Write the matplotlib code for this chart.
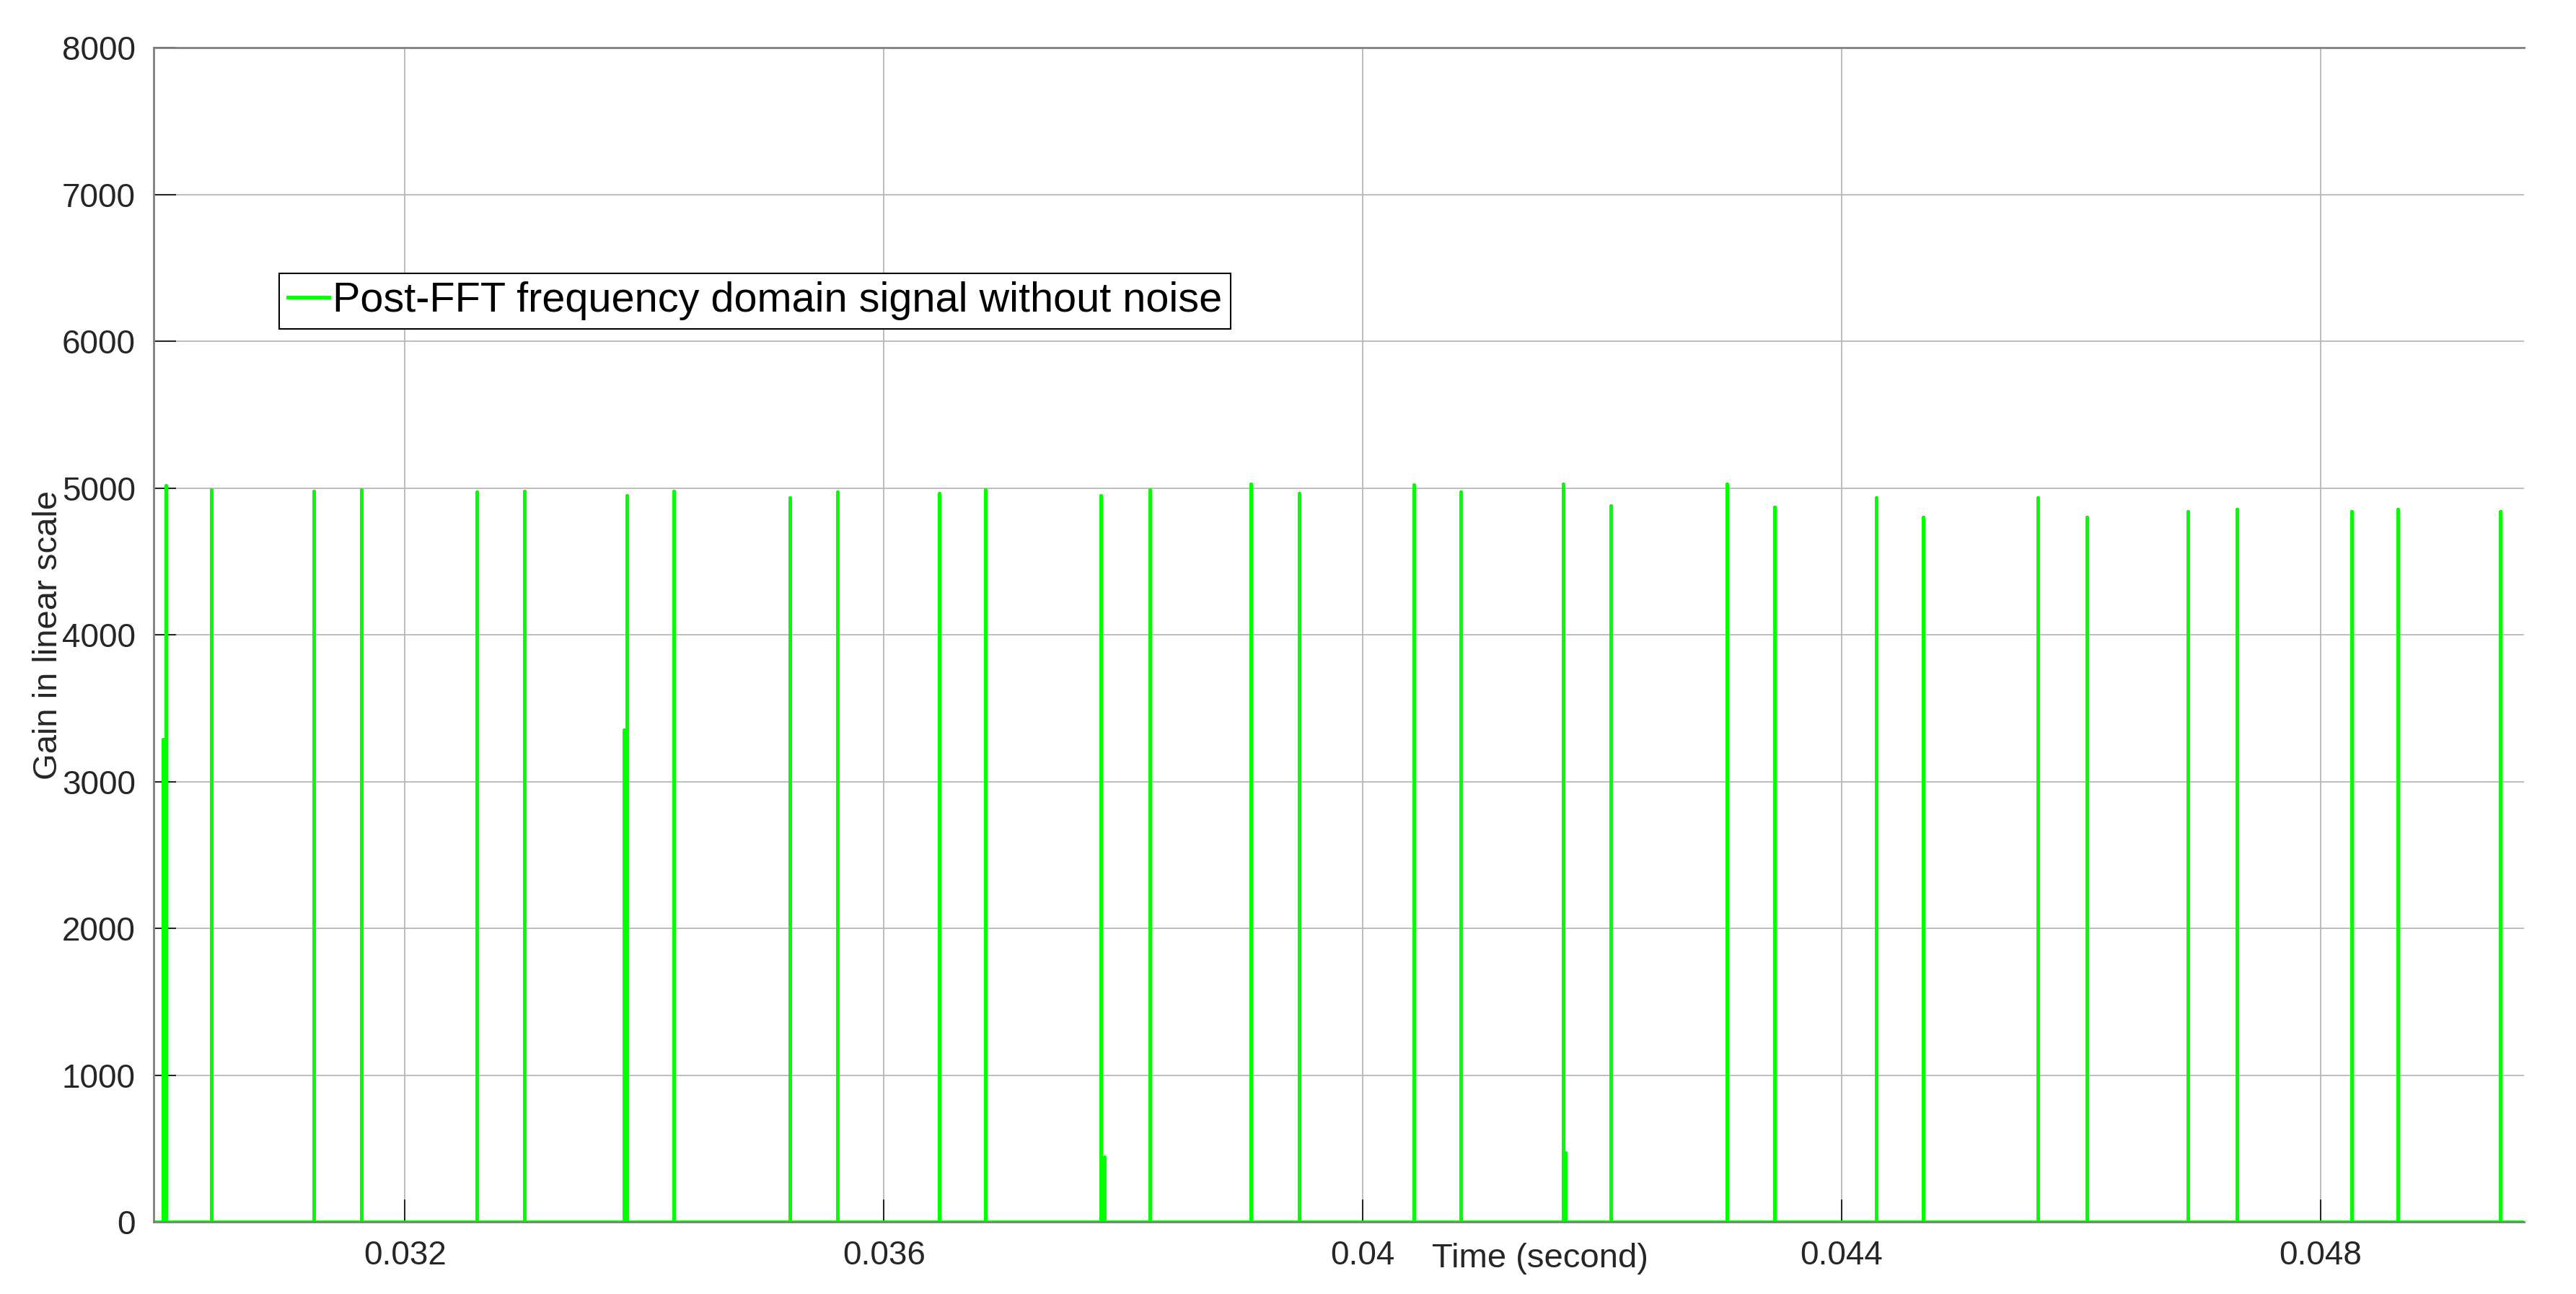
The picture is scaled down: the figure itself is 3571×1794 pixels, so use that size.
import numpy as np
import matplotlib.pyplot as plt

# spike times (s) and peak gains
spike_times = [0.030003, 0.030386, 0.031236, 0.031635, 0.032601, 0.032997,
               0.033854, 0.034247, 0.035214, 0.035612, 0.036460, 0.036850,
               0.037814, 0.038221, 0.039065, 0.039467, 0.040430, 0.040821,
               0.041675, 0.042072, 0.043042, 0.043438, 0.044291, 0.044679,
               0.045640, 0.046051, 0.046891, 0.047300, 0.048262, 0.048649,
               0.049502]
spike_gains = [5016, 4989, 4976, 4989, 4973, 4976,
               4947, 4976, 4935, 4973, 4963, 4989,
               4948, 4989, 5025, 4963, 5024, 4973,
               5029, 4881, 5029, 4870, 4935, 4800,
               4935, 4800, 4840, 4853, 4840, 4853,
               4840]

# smaller side spikes next to some of the main ones
side_times = [0.029982, 0.033830, 0.037840, 0.041690]
side_gains = [3287, 3351, 444, 473]

t_all = np.array(spike_times + side_times)
g_all = np.array(spike_gains + side_gains)
order = np.argsort(t_all)
t_all, g_all = t_all[order], g_all[order]

# impulse train: baseline -> peak -> baseline at each spike
x = np.repeat(t_all, 3)
y = np.zeros_like(x, dtype=float)
y[1::3] = g_all

xlim = (0.0299, 0.0497)
xticks = [0.032, 0.036, 0.040, 0.044, 0.048]
xtick_labels = ['0.032', '0.036', '0.04', '0.044', '0.048']
yticks = np.arange(0, 8001, 1000)

plt.rcParams['font.family'] = ['Liberation Sans', 'DejaVu Sans']

fig = plt.figure(figsize=(35.71, 17.94), dpi=100)
ax = fig.add_axes([0.0596, 0.0557, 0.9202, 0.9075])

x_full = np.concatenate([[xlim[0]], x, [xlim[1]]])
y_full = np.concatenate([[0], y, [0]])
ax.plot(x_full, y_full, color='#00ff00', lw=3.5,
        label='Post-FFT frequency domain signal without noise')

ax.set_xlim(*xlim)
ax.set_ylim(0, 8000)
ax.set_xticks(xticks)
ax.set_xticklabels(xtick_labels)
ax.set_yticks(yticks)

ax.grid(True, color='#b8b8b8', lw=1.3)
ax.set_axisbelow(True)
ax.tick_params(direction='in', length=22, width=1.5, colors='#262626',
               labelsize=33, pad=18)
for s in ['left', 'top', 'bottom']:
    ax.spines[s].set_color('#808080')
    ax.spines[s].set_linewidth(2)
ax.spines['right'].set_visible(False)

ax.set_xlabel('Time (second)', fontsize=34, color='#262626')
ax.xaxis.set_label_coords(0.585, -0.018)
ax.set_ylabel('Gain in linear scale', fontsize=34, color='#262626', labelpad=-2)

leg = ax.legend(loc='upper left', bbox_to_anchor=(0.053, 0.808),
                borderaxespad=0, fontsize=41.5, handlelength=1.0,
                handletextpad=0.08, borderpad=0.2, fancybox=False,
                framealpha=1)
leg.get_frame().set_edgecolor('black')
leg.get_frame().set_linewidth(1.5)

fig.savefig('out.png', dpi=100)
